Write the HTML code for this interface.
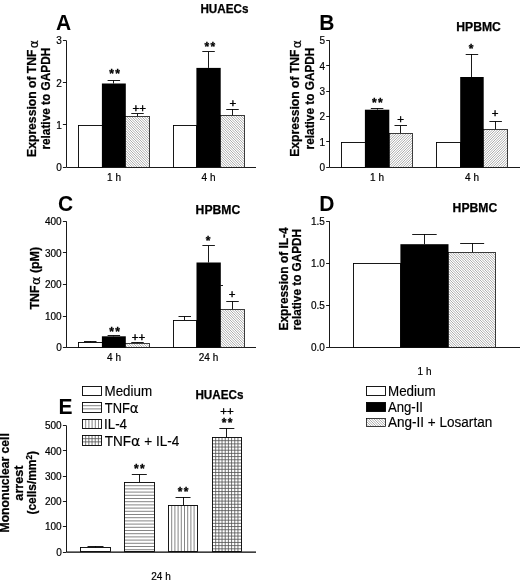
<!DOCTYPE html>
<html><head><meta charset="utf-8"><title>Figure</title>
<style>
html,body{margin:0;padding:0;background:#fff;}
svg{display:block;font-family:"Liberation Sans",sans-serif;fill:#000;}
</style></head><body>
<svg width="520" height="581" viewBox="0 0 520 581">
<rect width="520" height="581" fill="#fff"/>
<text x="56.1" y="29.7" font-size="22.4" font-weight="bold" text-anchor="start" textLength="15.16" lengthAdjust="spacingAndGlyphs">A</text>
<text x="200.4" y="13.4" font-size="12.2" font-weight="bold" text-anchor="start" textLength="48" lengthAdjust="spacingAndGlyphs" stroke="#000" stroke-width="0.25">HUAECs</text>
<text transform="translate(35.8 98.5) rotate(-90)" font-size="12.5" font-weight="bold" text-anchor="middle" textLength="116.8" lengthAdjust="spacingAndGlyphs" stroke="#000" stroke-width="0.25">Expression of TNF<tspan dx="1.3" dy="1.8" font-family="DejaVu Sans" font-weight="normal" font-size="12.8">α</tspan></text>
<text transform="translate(50.3 98.7) rotate(-90)" font-size="12.5" font-weight="bold" text-anchor="middle" textLength="101.8" lengthAdjust="spacingAndGlyphs" stroke="#000" stroke-width="0.25">relative to GAPDH</text>
<line x1="66.5" y1="40.6" x2="66.5" y2="167" stroke="#000" stroke-width="0.9"/>
<line x1="66.4" y1="167.5" x2="256" y2="167.5" stroke="#000" stroke-width="0.9"/>
<line x1="62.900000000000006" y1="40.5" x2="66.4" y2="40.5" stroke="#000" stroke-width="0.9"/>
<text x="61.7" y="44.4" font-size="10" text-anchor="end" stroke="#000" stroke-width="0.2">3</text>
<line x1="62.900000000000006" y1="82.5" x2="66.4" y2="82.5" stroke="#000" stroke-width="0.9"/>
<text x="61.7" y="86.5" font-size="10" text-anchor="end" stroke="#000" stroke-width="0.2">2</text>
<line x1="62.900000000000006" y1="124.5" x2="66.4" y2="124.5" stroke="#000" stroke-width="0.9"/>
<text x="61.7" y="128.70000000000002" font-size="10" text-anchor="end" stroke="#000" stroke-width="0.2">1</text>
<line x1="62.900000000000006" y1="167.5" x2="66.4" y2="167.5" stroke="#000" stroke-width="0.9"/>
<text x="61.7" y="170.8" font-size="10" text-anchor="end" stroke="#000" stroke-width="0.2">0</text>
<rect x="78.5" y="125.5" width="24.0" height="42.0" fill="#fff" stroke="#000" stroke-width="0.9"/>
<line x1="113.5" y1="83.5" x2="113.5" y2="80.5" stroke="#000" stroke-width="0.9"/>
<line x1="107.6" y1="80.5" x2="120.1" y2="80.5" stroke="#000" stroke-width="0.9"/>
<rect x="101.9" y="83.5" width="23.9" height="83.5" fill="#000"/>
<line x1="137.5" y1="116.3" x2="137.5" y2="113.8" stroke="#000" stroke-width="0.9"/>
<line x1="131.25" y1="113.5" x2="143.75" y2="113.5" stroke="#000" stroke-width="0.9"/>
<rect x="125.5" y="116.5" width="24.0" height="51.0" fill="#fff"/>
<path d="M125.50 165.50L127.50 167.50M125.50 163.00L130.00 167.50M125.50 160.50L132.50 167.50M125.50 158.00L135.00 167.50M125.50 155.50L137.50 167.50M125.50 153.00L140.00 167.50M125.50 150.50L142.50 167.50M125.50 148.00L145.00 167.50M125.50 145.50L147.50 167.50M125.50 143.00L149.50 167.00M125.50 140.50L149.50 164.50M125.50 138.00L149.50 162.00M125.50 135.50L149.50 159.50M125.50 133.00L149.50 157.00M125.50 130.50L149.50 154.50M125.50 128.00L149.50 152.00M125.50 125.50L149.50 149.50M125.50 123.00L149.50 147.00M125.50 120.50L149.50 144.50M125.50 118.00L149.50 142.00M126.50 116.50L149.50 139.50M129.00 116.50L149.50 137.00M131.50 116.50L149.50 134.50M134.00 116.50L149.50 132.00M136.50 116.50L149.50 129.50M139.00 116.50L149.50 127.00M141.50 116.50L149.50 124.50M144.00 116.50L149.50 122.00M146.50 116.50L149.50 119.50M149.00 116.50L149.50 117.00" stroke="#5a5a5a" stroke-width="0.5" fill="none"/>
<rect x="125.5" y="116.5" width="24.0" height="51.0" fill="none" stroke="#000" stroke-width="0.75"/>
<rect x="173.5" y="125.5" width="23.0" height="42.0" fill="#fff" stroke="#000" stroke-width="0.9"/>
<line x1="208.5" y1="67.9" x2="208.5" y2="51.9" stroke="#000" stroke-width="0.9"/>
<line x1="202.3" y1="51.5" x2="214.8" y2="51.5" stroke="#000" stroke-width="0.9"/>
<rect x="196.4" y="67.9" width="24.3" height="99.1" fill="#000"/>
<line x1="232.5" y1="115.8" x2="232.5" y2="109" stroke="#000" stroke-width="0.9"/>
<line x1="226.25" y1="109.5" x2="238.75" y2="109.5" stroke="#000" stroke-width="0.9"/>
<rect x="220.5" y="115.5" width="24.0" height="52.0" fill="#fff"/>
<path d="M220.50 165.50L222.50 167.50M220.50 163.00L225.00 167.50M220.50 160.50L227.50 167.50M220.50 158.00L230.00 167.50M220.50 155.50L232.50 167.50M220.50 153.00L235.00 167.50M220.50 150.50L237.50 167.50M220.50 148.00L240.00 167.50M220.50 145.50L242.50 167.50M220.50 143.00L244.50 167.00M220.50 140.50L244.50 164.50M220.50 138.00L244.50 162.00M220.50 135.50L244.50 159.50M220.50 133.00L244.50 157.00M220.50 130.50L244.50 154.50M220.50 128.00L244.50 152.00M220.50 125.50L244.50 149.50M220.50 123.00L244.50 147.00M220.50 120.50L244.50 144.50M220.50 118.00L244.50 142.00M220.50 115.50L244.50 139.50M223.00 115.50L244.50 137.00M225.50 115.50L244.50 134.50M228.00 115.50L244.50 132.00M230.50 115.50L244.50 129.50M233.00 115.50L244.50 127.00M235.50 115.50L244.50 124.50M238.00 115.50L244.50 122.00M240.50 115.50L244.50 119.50M243.00 115.50L244.50 117.00" stroke="#5a5a5a" stroke-width="0.5" fill="none"/>
<rect x="220.5" y="115.5" width="24.0" height="52.0" fill="none" stroke="#000" stroke-width="0.75"/>
<text x="115.3" y="78.0" font-size="12" font-weight="bold" text-anchor="middle" letter-spacing="1.4" stroke="#000" stroke-width="0.3">**</text>
<text x="139.3" y="112.35" font-size="11.5" text-anchor="middle" stroke="#000" stroke-width="0.4">++</text>
<text x="210.5" y="50.7" font-size="12" font-weight="bold" text-anchor="middle" letter-spacing="1.4" stroke="#000" stroke-width="0.3">**</text>
<text x="232.8" y="107.15" font-size="11.5" text-anchor="middle" stroke="#000" stroke-width="0.4">+</text>
<text x="114" y="180.5" font-size="10" text-anchor="middle" stroke="#000" stroke-width="0.2">1 h</text>
<text x="208.5" y="180.5" font-size="10" text-anchor="middle" stroke="#000" stroke-width="0.2">4 h</text>
<text x="319.3" y="29.5" font-size="22.4" font-weight="bold" text-anchor="start" textLength="15.16" lengthAdjust="spacingAndGlyphs">B</text>
<text x="456.3" y="31.2" font-size="12.2" font-weight="bold" text-anchor="start" textLength="44.6" lengthAdjust="spacingAndGlyphs" stroke="#000" stroke-width="0.25">HPBMC</text>
<text transform="translate(298.8 98.4) rotate(-90)" font-size="12.5" font-weight="bold" text-anchor="middle" textLength="116.8" lengthAdjust="spacingAndGlyphs" stroke="#000" stroke-width="0.25">Expression of TNF<tspan dx="1.3" dy="1.8" font-family="DejaVu Sans" font-weight="normal" font-size="12.8">α</tspan></text>
<text transform="translate(313.5 98.5) rotate(-90)" font-size="12.5" font-weight="bold" text-anchor="middle" textLength="101.8" lengthAdjust="spacingAndGlyphs" stroke="#000" stroke-width="0.25">relative to GAPDH</text>
<line x1="329.5" y1="40.6" x2="329.5" y2="167.2" stroke="#000" stroke-width="0.9"/>
<line x1="329.7" y1="167.5" x2="520" y2="167.5" stroke="#000" stroke-width="0.9"/>
<line x1="326.2" y1="40.5" x2="329.7" y2="40.5" stroke="#000" stroke-width="0.9"/>
<text x="325.0" y="44.4" font-size="10" text-anchor="end" stroke="#000" stroke-width="0.2">5</text>
<line x1="326.2" y1="65.5" x2="329.7" y2="65.5" stroke="#000" stroke-width="0.9"/>
<text x="325.0" y="69.7" font-size="10" text-anchor="end" stroke="#000" stroke-width="0.2">4</text>
<line x1="326.2" y1="91.5" x2="329.7" y2="91.5" stroke="#000" stroke-width="0.9"/>
<text x="325.0" y="95.0" font-size="10" text-anchor="end" stroke="#000" stroke-width="0.2">3</text>
<line x1="326.2" y1="116.5" x2="329.7" y2="116.5" stroke="#000" stroke-width="0.9"/>
<text x="325.0" y="120.3" font-size="10" text-anchor="end" stroke="#000" stroke-width="0.2">2</text>
<line x1="326.2" y1="141.5" x2="329.7" y2="141.5" stroke="#000" stroke-width="0.9"/>
<text x="325.0" y="145.70000000000002" font-size="10" text-anchor="end" stroke="#000" stroke-width="0.2">1</text>
<line x1="326.2" y1="167.5" x2="329.7" y2="167.5" stroke="#000" stroke-width="0.9"/>
<text x="325.0" y="171.0" font-size="10" text-anchor="end" stroke="#000" stroke-width="0.2">0</text>
<rect x="341.5" y="142.5" width="24.0" height="25.0" fill="#fff" stroke="#000" stroke-width="0.9"/>
<line x1="377.5" y1="109.7" x2="377.5" y2="108.4" stroke="#000" stroke-width="0.9"/>
<line x1="370.85" y1="108.5" x2="383.35" y2="108.5" stroke="#000" stroke-width="0.9"/>
<rect x="364.9" y="109.7" width="24.4" height="57.5" fill="#000"/>
<line x1="400.5" y1="133" x2="400.5" y2="125.8" stroke="#000" stroke-width="0.9"/>
<line x1="394.5" y1="125.5" x2="407.0" y2="125.5" stroke="#000" stroke-width="0.9"/>
<rect x="389.5" y="133.5" width="23.0" height="34.0" fill="#fff"/>
<path d="M389.50 135.50L391.50 133.50M389.50 138.00L394.00 133.50M389.50 140.50L396.50 133.50M389.50 143.00L399.00 133.50M389.50 145.50L401.50 133.50M389.50 148.00L404.00 133.50M389.50 150.50L406.50 133.50M389.50 153.00L409.00 133.50M389.50 155.50L411.50 133.50M389.50 158.00L412.50 135.00M389.50 160.50L412.50 137.50M389.50 163.00L412.50 140.00M389.50 165.50L412.50 142.50M390.00 167.50L412.50 145.00M392.50 167.50L412.50 147.50M395.00 167.50L412.50 150.00M397.50 167.50L412.50 152.50M400.00 167.50L412.50 155.00M402.50 167.50L412.50 157.50M405.00 167.50L412.50 160.00M407.50 167.50L412.50 162.50M410.00 167.50L412.50 165.00" stroke="#5a5a5a" stroke-width="0.5" fill="none"/>
<rect x="389.5" y="133.5" width="23.0" height="34.0" fill="none" stroke="#000" stroke-width="0.75"/>
<rect x="436.5" y="142.5" width="24.0" height="25.0" fill="#fff" stroke="#000" stroke-width="0.9"/>
<line x1="471.5" y1="77" x2="471.5" y2="54" stroke="#000" stroke-width="0.9"/>
<line x1="465.7" y1="54.5" x2="478.2" y2="54.5" stroke="#000" stroke-width="0.9"/>
<rect x="460.2" y="77" width="23.5" height="90.2" fill="#000"/>
<line x1="495.5" y1="129.3" x2="495.5" y2="121.3" stroke="#000" stroke-width="0.9"/>
<line x1="489.4" y1="121.5" x2="501.9" y2="121.5" stroke="#000" stroke-width="0.9"/>
<rect x="483.5" y="129.5" width="24.0" height="38.0" fill="#fff"/>
<path d="M483.50 131.50L485.50 129.50M483.50 134.00L488.00 129.50M483.50 136.50L490.50 129.50M483.50 139.00L493.00 129.50M483.50 141.50L495.50 129.50M483.50 144.00L498.00 129.50M483.50 146.50L500.50 129.50M483.50 149.00L503.00 129.50M483.50 151.50L505.50 129.50M483.50 154.00L507.50 130.00M483.50 156.50L507.50 132.50M483.50 159.00L507.50 135.00M483.50 161.50L507.50 137.50M483.50 164.00L507.50 140.00M483.50 166.50L507.50 142.50M485.00 167.50L507.50 145.00M487.50 167.50L507.50 147.50M490.00 167.50L507.50 150.00M492.50 167.50L507.50 152.50M495.00 167.50L507.50 155.00M497.50 167.50L507.50 157.50M500.00 167.50L507.50 160.00M502.50 167.50L507.50 162.50M505.00 167.50L507.50 165.00" stroke="#5a5a5a" stroke-width="0.5" fill="none"/>
<rect x="483.5" y="129.5" width="24.0" height="38.0" fill="none" stroke="#000" stroke-width="0.75"/>
<text x="378.09999999999997" y="106.6" font-size="12" font-weight="bold" text-anchor="middle" letter-spacing="1.4" stroke="#000" stroke-width="0.3">**</text>
<text x="400.7" y="122.65" font-size="11.5" text-anchor="middle" stroke="#000" stroke-width="0.4">+</text>
<text x="471.9" y="52.8" font-size="12" font-weight="bold" text-anchor="middle" letter-spacing="1.4" stroke="#000" stroke-width="0.3">*</text>
<text x="495.2" y="117.15" font-size="11.5" text-anchor="middle" stroke="#000" stroke-width="0.4">+</text>
<text x="377" y="180.5" font-size="10" text-anchor="middle" stroke="#000" stroke-width="0.2">1 h</text>
<text x="472" y="180.5" font-size="10" text-anchor="middle" stroke="#000" stroke-width="0.2">4 h</text>
<text x="57.9" y="210.6" font-size="22.4" font-weight="bold" text-anchor="start" textLength="15.16" lengthAdjust="spacingAndGlyphs">C</text>
<text x="195.6" y="213.7" font-size="12.2" font-weight="bold" text-anchor="start" textLength="44.6" lengthAdjust="spacingAndGlyphs" stroke="#000" stroke-width="0.25">HPBMC</text>
<text transform="translate(38.8 278.2) rotate(-90)" font-size="12.5" font-weight="bold" text-anchor="middle" textLength="62.6" lengthAdjust="spacingAndGlyphs" stroke="#000" stroke-width="0.25">TNF<tspan dx="0.5" dy="1" font-family="DejaVu Sans" font-weight="normal" font-size="12.8">α</tspan><tspan dy="-1"> (pM)</tspan></text>
<line x1="66.5" y1="221.3" x2="66.5" y2="347.5" stroke="#000" stroke-width="0.9"/>
<line x1="66.4" y1="347.5" x2="256" y2="347.5" stroke="#000" stroke-width="0.9"/>
<line x1="62.900000000000006" y1="221.5" x2="66.4" y2="221.5" stroke="#000" stroke-width="0.9"/>
<text x="61.7" y="225.10000000000002" font-size="10" text-anchor="end" stroke="#000" stroke-width="0.2">400</text>
<line x1="62.900000000000006" y1="252.5" x2="66.4" y2="252.5" stroke="#000" stroke-width="0.9"/>
<text x="61.7" y="256.7" font-size="10" text-anchor="end" stroke="#000" stroke-width="0.2">300</text>
<line x1="62.900000000000006" y1="284.5" x2="66.4" y2="284.5" stroke="#000" stroke-width="0.9"/>
<text x="61.7" y="288.2" font-size="10" text-anchor="end" stroke="#000" stroke-width="0.2">200</text>
<line x1="62.900000000000006" y1="316.5" x2="66.4" y2="316.5" stroke="#000" stroke-width="0.9"/>
<text x="61.7" y="319.8" font-size="10" text-anchor="end" stroke="#000" stroke-width="0.2">100</text>
<line x1="62.900000000000006" y1="347.5" x2="66.4" y2="347.5" stroke="#000" stroke-width="0.9"/>
<text x="61.7" y="351.3" font-size="10" text-anchor="end" stroke="#000" stroke-width="0.2">0</text>
<line x1="90.5" y1="342" x2="90.5" y2="341.3" stroke="#000" stroke-width="0.9"/>
<line x1="84.0" y1="341.5" x2="96.5" y2="341.5" stroke="#000" stroke-width="0.9"/>
<rect x="78.5" y="342.5" width="24.0" height="5.0" fill="#fff" stroke="#000" stroke-width="0.9"/>
<line x1="113.5" y1="336.3" x2="113.5" y2="335.6" stroke="#000" stroke-width="0.9"/>
<line x1="107.6" y1="335.5" x2="120.1" y2="335.5" stroke="#000" stroke-width="0.9"/>
<rect x="101.9" y="336.3" width="23.9" height="11.2" fill="#000"/>
<line x1="137.5" y1="343.5" x2="137.5" y2="342.5" stroke="#000" stroke-width="0.9"/>
<line x1="131.25" y1="342.5" x2="143.75" y2="342.5" stroke="#000" stroke-width="0.9"/>
<rect x="125.5" y="343.5" width="24.0" height="4.0" fill="#fff"/>
<path d="M125.50 345.50L127.50 347.50M126.00 343.50L130.00 347.50M128.50 343.50L132.50 347.50M131.00 343.50L135.00 347.50M133.50 343.50L137.50 347.50M136.00 343.50L140.00 347.50M138.50 343.50L142.50 347.50M141.00 343.50L145.00 347.50M143.50 343.50L147.50 347.50M146.00 343.50L149.50 347.00M148.50 343.50L149.50 344.50" stroke="#5a5a5a" stroke-width="0.5" fill="none"/>
<rect x="125.5" y="343.5" width="24.0" height="4.0" fill="none" stroke="#000" stroke-width="0.75"/>
<line x1="184.5" y1="320" x2="184.5" y2="316.3" stroke="#000" stroke-width="0.9"/>
<line x1="178.5" y1="316.5" x2="191.0" y2="316.5" stroke="#000" stroke-width="0.9"/>
<rect x="173.5" y="320.5" width="23.0" height="27.0" fill="#fff" stroke="#000" stroke-width="0.9"/>
<line x1="208.5" y1="262.5" x2="208.5" y2="245.8" stroke="#000" stroke-width="0.9"/>
<line x1="202.4" y1="245.5" x2="214.9" y2="245.5" stroke="#000" stroke-width="0.9"/>
<rect x="196.5" y="262.5" width="24.3" height="85.0" fill="#000"/>
<line x1="232.5" y1="309.3" x2="232.5" y2="301.4" stroke="#000" stroke-width="0.9"/>
<line x1="226.25" y1="301.5" x2="238.75" y2="301.5" stroke="#000" stroke-width="0.9"/>
<rect x="220.5" y="309.5" width="24.0" height="38.0" fill="#fff"/>
<path d="M220.50 345.50L222.50 347.50M220.50 343.00L225.00 347.50M220.50 340.50L227.50 347.50M220.50 338.00L230.00 347.50M220.50 335.50L232.50 347.50M220.50 333.00L235.00 347.50M220.50 330.50L237.50 347.50M220.50 328.00L240.00 347.50M220.50 325.50L242.50 347.50M220.50 323.00L244.50 347.00M220.50 320.50L244.50 344.50M220.50 318.00L244.50 342.00M220.50 315.50L244.50 339.50M220.50 313.00L244.50 337.00M220.50 310.50L244.50 334.50M222.00 309.50L244.50 332.00M224.50 309.50L244.50 329.50M227.00 309.50L244.50 327.00M229.50 309.50L244.50 324.50M232.00 309.50L244.50 322.00M234.50 309.50L244.50 319.50M237.00 309.50L244.50 317.00M239.50 309.50L244.50 314.50M242.00 309.50L244.50 312.00" stroke="#5a5a5a" stroke-width="0.5" fill="none"/>
<rect x="220.5" y="309.5" width="24.0" height="38.0" fill="none" stroke="#000" stroke-width="0.75"/>
<line x1="220.5" y1="285.5" x2="223" y2="285.5" stroke="#000" stroke-width="0.9"/>
<text x="115.2" y="335.6" font-size="12" font-weight="bold" text-anchor="middle" letter-spacing="1.4" stroke="#000" stroke-width="0.3">**</text>
<text x="138.4" y="341.05" font-size="11.5" text-anchor="middle" stroke="#000" stroke-width="0.4">++</text>
<text x="208.8" y="244.8" font-size="12" font-weight="bold" text-anchor="middle" letter-spacing="1.4" stroke="#000" stroke-width="0.3">*</text>
<text x="232.0" y="298.45" font-size="11.5" text-anchor="middle" stroke="#000" stroke-width="0.4">+</text>
<text x="114" y="360.5" font-size="10" text-anchor="middle" stroke="#000" stroke-width="0.2">4 h</text>
<text x="208.5" y="360.5" font-size="10" text-anchor="middle" stroke="#000" stroke-width="0.2">24 h</text>
<text x="319.3" y="210.5" font-size="22.4" font-weight="bold" text-anchor="start" textLength="15.16" lengthAdjust="spacingAndGlyphs">D</text>
<text x="452.6" y="211.7" font-size="12.2" font-weight="bold" text-anchor="start" textLength="44.6" lengthAdjust="spacingAndGlyphs" stroke="#000" stroke-width="0.25">HPBMC</text>
<text transform="translate(288.4 279) rotate(-90)" font-size="12.5" font-weight="bold" text-anchor="middle" textLength="103.1" lengthAdjust="spacingAndGlyphs" stroke="#000" stroke-width="0.25">Expression of IL-4</text>
<text transform="translate(301.4 279.6) rotate(-90)" font-size="12.5" font-weight="bold" text-anchor="middle" textLength="101.3" lengthAdjust="spacingAndGlyphs" stroke="#000" stroke-width="0.25">relative to GAPDH</text>
<line x1="329.5" y1="221.4" x2="329.5" y2="347.5" stroke="#000" stroke-width="0.9"/>
<line x1="329.6" y1="347.5" x2="520" y2="347.5" stroke="#000" stroke-width="0.9"/>
<line x1="326.1" y1="221.5" x2="329.6" y2="221.5" stroke="#000" stroke-width="0.9"/>
<text x="324.90000000000003" y="225.20000000000002" font-size="10" text-anchor="end" stroke="#000" stroke-width="0.2">1.5</text>
<line x1="326.1" y1="263.5" x2="329.6" y2="263.5" stroke="#000" stroke-width="0.9"/>
<text x="324.90000000000003" y="267.2" font-size="10" text-anchor="end" stroke="#000" stroke-width="0.2">1.0</text>
<line x1="326.1" y1="305.5" x2="329.6" y2="305.5" stroke="#000" stroke-width="0.9"/>
<text x="324.90000000000003" y="309.3" font-size="10" text-anchor="end" stroke="#000" stroke-width="0.2">0.5</text>
<line x1="326.1" y1="347.5" x2="329.6" y2="347.5" stroke="#000" stroke-width="0.9"/>
<text x="324.90000000000003" y="351.3" font-size="10" text-anchor="end" stroke="#000" stroke-width="0.2">0.0</text>
<rect x="353.5" y="263.5" width="47.0" height="84.0" fill="#fff" stroke="#000" stroke-width="0.9"/>
<line x1="424.5" y1="244.2" x2="424.5" y2="234.1" stroke="#000" stroke-width="0.9"/>
<line x1="412.2" y1="234.5" x2="436.7" y2="234.5" stroke="#000" stroke-width="0.9"/>
<rect x="400.4" y="244.2" width="48.1" height="103.3" fill="#000"/>
<line x1="472.5" y1="252.5" x2="472.5" y2="243.3" stroke="#000" stroke-width="0.9"/>
<line x1="460.15" y1="243.5" x2="484.15" y2="243.5" stroke="#000" stroke-width="0.9"/>
<rect x="448.5" y="252.5" width="47.0" height="95.0" fill="#fff"/>
<path d="M448.50 346.00L450.00 347.50M448.50 343.50L452.50 347.50M448.50 341.00L455.00 347.50M448.50 338.50L457.50 347.50M448.50 336.00L460.00 347.50M448.50 333.50L462.50 347.50M448.50 331.00L465.00 347.50M448.50 328.50L467.50 347.50M448.50 326.00L470.00 347.50M448.50 323.50L472.50 347.50M448.50 321.00L475.00 347.50M448.50 318.50L477.50 347.50M448.50 316.00L480.00 347.50M448.50 313.50L482.50 347.50M448.50 311.00L485.00 347.50M448.50 308.50L487.50 347.50M448.50 306.00L490.00 347.50M448.50 303.50L492.50 347.50M448.50 301.00L495.00 347.50M448.50 298.50L495.50 345.50M448.50 296.00L495.50 343.00M448.50 293.50L495.50 340.50M448.50 291.00L495.50 338.00M448.50 288.50L495.50 335.50M448.50 286.00L495.50 333.00M448.50 283.50L495.50 330.50M448.50 281.00L495.50 328.00M448.50 278.50L495.50 325.50M448.50 276.00L495.50 323.00M448.50 273.50L495.50 320.50M448.50 271.00L495.50 318.00M448.50 268.50L495.50 315.50M448.50 266.00L495.50 313.00M448.50 263.50L495.50 310.50M448.50 261.00L495.50 308.00M448.50 258.50L495.50 305.50M448.50 256.00L495.50 303.00M448.50 253.50L495.50 300.50M450.00 252.50L495.50 298.00M452.50 252.50L495.50 295.50M455.00 252.50L495.50 293.00M457.50 252.50L495.50 290.50M460.00 252.50L495.50 288.00M462.50 252.50L495.50 285.50M465.00 252.50L495.50 283.00M467.50 252.50L495.50 280.50M470.00 252.50L495.50 278.00M472.50 252.50L495.50 275.50M475.00 252.50L495.50 273.00M477.50 252.50L495.50 270.50M480.00 252.50L495.50 268.00M482.50 252.50L495.50 265.50M485.00 252.50L495.50 263.00M487.50 252.50L495.50 260.50M490.00 252.50L495.50 258.00M492.50 252.50L495.50 255.50M495.00 252.50L495.50 253.00" stroke="#5a5a5a" stroke-width="0.5" fill="none"/>
<rect x="448.5" y="252.5" width="47.0" height="95.0" fill="none" stroke="#000" stroke-width="0.75"/>
<text x="424.5" y="375" font-size="10" text-anchor="middle" stroke="#000" stroke-width="0.2">1 h</text>
<rect x="366.5" y="386.5" width="19.0" height="9.0" fill="#fff" stroke="#000" stroke-width="0.9"/>
<rect x="366.5" y="402.5" width="19.0" height="9.0" fill="#000" stroke="#000" stroke-width="0.9"/>
<rect x="366.5" y="418.5" width="19.0" height="8.0" fill="#fff"/>
<path d="M366.50 424.00L369.00 426.50M366.50 421.50L371.50 426.50M366.50 419.00L374.00 426.50M368.50 418.50L376.50 426.50M371.00 418.50L379.00 426.50M373.50 418.50L381.50 426.50M376.00 418.50L384.00 426.50M378.50 418.50L385.50 425.50M381.00 418.50L385.50 423.00M383.50 418.50L385.50 420.50" stroke="#5a5a5a" stroke-width="0.5" fill="none"/>
<rect x="366.5" y="418.5" width="19.0" height="8.0" fill="none" stroke="#000" stroke-width="0.75"/>
<text x="388" y="395.7" font-size="13.8" text-anchor="start" textLength="47.6" lengthAdjust="spacingAndGlyphs" stroke="#000" stroke-width="0.15">Medium</text>
<text x="388" y="411.5" font-size="13.8" text-anchor="start" textLength="35" lengthAdjust="spacingAndGlyphs" stroke="#000" stroke-width="0.15">Ang-II</text>
<text x="388" y="426.9" font-size="13.8" text-anchor="start" textLength="104.2" lengthAdjust="spacingAndGlyphs" stroke="#000" stroke-width="0.15">Ang-II + Losartan</text>
<text x="58.6" y="413.6" font-size="22.4" font-weight="bold" text-anchor="start" textLength="14.01" lengthAdjust="spacingAndGlyphs">E</text>
<text x="195.4" y="399.4" font-size="12.2" font-weight="bold" text-anchor="start" textLength="48" lengthAdjust="spacingAndGlyphs" stroke="#000" stroke-width="0.25">HUAECs</text>
<text transform="translate(9.0 482.8) rotate(-90)" font-size="12.5" font-weight="bold" text-anchor="middle" textLength="99.3" lengthAdjust="spacingAndGlyphs" stroke="#000" stroke-width="0.25">Mononuclear cell</text>
<text transform="translate(22.7 483.1) rotate(-90)" font-size="12.5" font-weight="bold" text-anchor="middle" textLength="35.1" lengthAdjust="spacingAndGlyphs" stroke="#000" stroke-width="0.25">arrest</text>
<text transform="translate(36.0 482.8) rotate(-90)" font-size="12.5" font-weight="bold" text-anchor="middle" textLength="63.6" lengthAdjust="spacingAndGlyphs" stroke="#000" stroke-width="0.25">(cells/mm<tspan font-size="8.5" dy="-4.5">2</tspan><tspan dy="4.5">)</tspan></text>
<line x1="66.5" y1="425.6" x2="66.5" y2="552.05" stroke="#000" stroke-width="0.9"/>
<line x1="66.4" y1="552.05" x2="256" y2="552.05" stroke="#000" stroke-width="1.15"/>
<line x1="62.900000000000006" y1="425.5" x2="66.4" y2="425.5" stroke="#000" stroke-width="0.9"/>
<text x="61.7" y="429.40000000000003" font-size="10" text-anchor="end" stroke="#000" stroke-width="0.2">500</text>
<line x1="62.900000000000006" y1="450.5" x2="66.4" y2="450.5" stroke="#000" stroke-width="0.9"/>
<text x="61.7" y="454.6" font-size="10" text-anchor="end" stroke="#000" stroke-width="0.2">400</text>
<line x1="62.900000000000006" y1="476.5" x2="66.4" y2="476.5" stroke="#000" stroke-width="0.9"/>
<text x="61.7" y="479.8" font-size="10" text-anchor="end" stroke="#000" stroke-width="0.2">300</text>
<line x1="62.900000000000006" y1="501.5" x2="66.4" y2="501.5" stroke="#000" stroke-width="0.9"/>
<text x="61.7" y="505.1" font-size="10" text-anchor="end" stroke="#000" stroke-width="0.2">200</text>
<line x1="62.900000000000006" y1="526.5" x2="66.4" y2="526.5" stroke="#000" stroke-width="0.9"/>
<text x="61.7" y="530.3" font-size="10" text-anchor="end" stroke="#000" stroke-width="0.2">100</text>
<line x1="62.900000000000006" y1="552.5" x2="66.4" y2="552.5" stroke="#000" stroke-width="0.9"/>
<text x="61.7" y="555.8499999999999" font-size="10" text-anchor="end" stroke="#000" stroke-width="0.2">0</text>
<line x1="95.5" y1="547.5" x2="95.5" y2="546.3" stroke="#000" stroke-width="0.9"/>
<line x1="87.5" y1="546.5" x2="103.5" y2="546.5" stroke="#000" stroke-width="0.9"/>
<rect x="80.5" y="547.5" width="30.0" height="4.0" fill="#fff" stroke="#000" stroke-width="0.9"/>
<line x1="139.5" y1="482.6" x2="139.5" y2="474.5" stroke="#000" stroke-width="0.9"/>
<line x1="131.8" y1="474.5" x2="146.8" y2="474.5" stroke="#000" stroke-width="0.9"/>
<rect x="124.5" y="482.5" width="30.0" height="69.0" fill="#fff"/>
<path d="M124.50 485.70L154.50 485.70M124.50 488.90L154.50 488.90M124.50 492.10L154.50 492.10M124.50 495.30L154.50 495.30M124.50 498.50L154.50 498.50M124.50 501.70L154.50 501.70M124.50 504.90L154.50 504.90M124.50 508.10L154.50 508.10M124.50 511.30L154.50 511.30M124.50 514.50L154.50 514.50M124.50 517.70L154.50 517.70M124.50 520.90L154.50 520.90M124.50 524.10L154.50 524.10M124.50 527.30L154.50 527.30M124.50 530.50L154.50 530.50M124.50 533.70L154.50 533.70M124.50 536.90L154.50 536.90M124.50 540.10L154.50 540.10M124.50 543.30L154.50 543.30M124.50 546.50L154.50 546.50M124.50 549.70L154.50 549.70" stroke="#777" stroke-width="0.9" fill="none"/>
<rect x="124.5" y="482.5" width="30.0" height="69.0" fill="none" stroke="#000" stroke-width="0.9"/>
<line x1="183.5" y1="505" x2="183.5" y2="497" stroke="#000" stroke-width="0.9"/>
<line x1="175.55" y1="497.5" x2="190.55" y2="497.5" stroke="#000" stroke-width="0.9"/>
<rect x="168.5" y="505.5" width="29.0" height="46.0" fill="#fff"/>
<path d="M171.70 505.50L171.70 551.50M174.90 505.50L174.90 551.50M178.10 505.50L178.10 551.50M181.30 505.50L181.30 551.50M184.50 505.50L184.50 551.50M187.70 505.50L187.70 551.50M190.90 505.50L190.90 551.50M194.10 505.50L194.10 551.50" stroke="#777" stroke-width="0.9" fill="none"/>
<rect x="168.5" y="505.5" width="29.0" height="46.0" fill="none" stroke="#000" stroke-width="0.9"/>
<line x1="226.5" y1="437.7" x2="226.5" y2="428.5" stroke="#000" stroke-width="0.9"/>
<line x1="219.35" y1="428.5" x2="234.35" y2="428.5" stroke="#000" stroke-width="0.9"/>
<rect x="212.5" y="437.5" width="29.0" height="114.0" fill="#fff"/>
<path d="M212.50 440.68L241.50 440.68M212.50 443.86L241.50 443.86M212.50 447.04L241.50 447.04M212.50 450.22L241.50 450.22M212.50 453.40L241.50 453.40M212.50 456.58L241.50 456.58M212.50 459.76L241.50 459.76M212.50 462.94L241.50 462.94M212.50 466.12L241.50 466.12M212.50 469.30L241.50 469.30M212.50 472.48L241.50 472.48M212.50 475.66L241.50 475.66M212.50 478.84L241.50 478.84M212.50 482.02L241.50 482.02M212.50 485.20L241.50 485.20M212.50 488.38L241.50 488.38M212.50 491.56L241.50 491.56M212.50 494.74L241.50 494.74M212.50 497.92L241.50 497.92M212.50 501.10L241.50 501.10M212.50 504.28L241.50 504.28M212.50 507.46L241.50 507.46M212.50 510.64L241.50 510.64M212.50 513.82L241.50 513.82M212.50 517.00L241.50 517.00M212.50 520.18L241.50 520.18M212.50 523.36L241.50 523.36M212.50 526.54L241.50 526.54M212.50 529.72L241.50 529.72M212.50 532.90L241.50 532.90M212.50 536.08L241.50 536.08M212.50 539.26L241.50 539.26M212.50 542.44L241.50 542.44M212.50 545.62L241.50 545.62M212.50 548.80L241.50 548.80M215.68 437.50L215.68 551.50M218.86 437.50L218.86 551.50M222.04 437.50L222.04 551.50M225.22 437.50L225.22 551.50M228.40 437.50L228.40 551.50M231.58 437.50L231.58 551.50M234.76 437.50L234.76 551.50M237.94 437.50L237.94 551.50" stroke="#505050" stroke-width="0.8" fill="none"/>
<rect x="212.5" y="437.5" width="29.0" height="114.0" fill="none" stroke="#000" stroke-width="0.9"/>
<text x="140.1" y="473.0" font-size="12" font-weight="bold" text-anchor="middle" letter-spacing="1.4" stroke="#000" stroke-width="0.3">**</text>
<text x="183.7" y="495.8" font-size="12" font-weight="bold" text-anchor="middle" letter-spacing="1.4" stroke="#000" stroke-width="0.3">**</text>
<text x="227.7" y="426.6" font-size="12" font-weight="bold" text-anchor="middle" letter-spacing="1.4" stroke="#000" stroke-width="0.3">**</text>
<text x="226.9" y="414.85" font-size="11.5" text-anchor="middle" stroke="#000" stroke-width="0.4">++</text>
<text x="161" y="579.5" font-size="10" text-anchor="middle" stroke="#000" stroke-width="0.2">24 h</text>
<rect x="82.5" y="386.5" width="19.0" height="9.0" fill="#fff" stroke="#000" stroke-width="0.9"/>
<rect x="82.5" y="402.5" width="19.0" height="10.0" fill="#fff"/>
<path d="M82.50 405.70L101.50 405.70M82.50 408.90L101.50 408.90" stroke="#777" stroke-width="0.9" fill="none"/>
<rect x="82.5" y="402.5" width="19.0" height="10.0" fill="none" stroke="#000" stroke-width="0.9"/>
<rect x="82.5" y="419.5" width="19.0" height="9.0" fill="#fff"/>
<path d="M85.70 419.50L85.70 428.50M88.90 419.50L88.90 428.50M92.10 419.50L92.10 428.50M95.30 419.50L95.30 428.50M98.50 419.50L98.50 428.50" stroke="#777" stroke-width="0.9" fill="none"/>
<rect x="82.5" y="419.5" width="19.0" height="9.0" fill="none" stroke="#000" stroke-width="0.9"/>
<rect x="82.5" y="435.5" width="19.0" height="10.0" fill="#fff"/>
<path d="M82.50 438.68L101.50 438.68M82.50 441.86L101.50 441.86M85.68 435.50L85.68 445.50M88.86 435.50L88.86 445.50M92.04 435.50L92.04 445.50M95.22 435.50L95.22 445.50M98.40 435.50L98.40 445.50" stroke="#505050" stroke-width="0.8" fill="none"/>
<rect x="82.5" y="435.5" width="19.0" height="10.0" fill="none" stroke="#000" stroke-width="0.9"/>
<text x="104.5" y="395.5" font-size="13.8" text-anchor="start" textLength="47.6" lengthAdjust="spacingAndGlyphs" stroke="#000" stroke-width="0.15">Medium</text>
<text x="104.8" y="412.7" font-size="13.8" text-anchor="start" textLength="34" lengthAdjust="spacingAndGlyphs" stroke="#000" stroke-width="0.15">TNF<tspan font-family="DejaVu Sans" font-size="14.5">α</tspan></text>
<text x="104.0" y="428.9" font-size="13.8" text-anchor="start" textLength="23" lengthAdjust="spacingAndGlyphs" stroke="#000" stroke-width="0.15">IL-4</text>
<text x="104.8" y="445.6" font-size="13.8" text-anchor="start" textLength="74.4" lengthAdjust="spacingAndGlyphs" stroke="#000" stroke-width="0.15">TNF<tspan font-family="DejaVu Sans" font-size="14.5">α</tspan> + IL-4</text>
</svg>
</body></html>
